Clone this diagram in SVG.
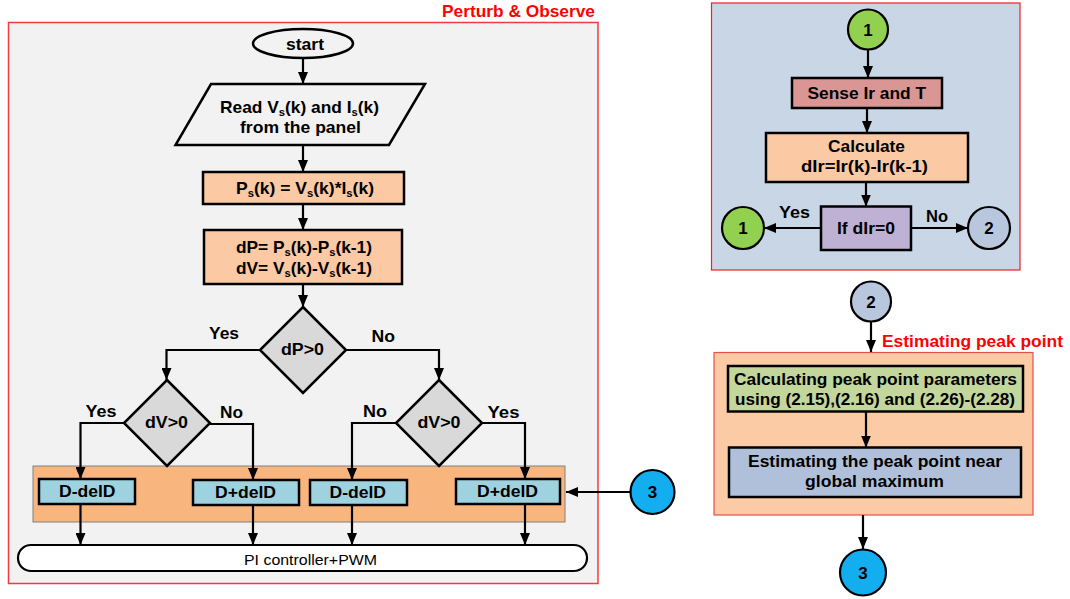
<svg xmlns="http://www.w3.org/2000/svg" width="1070" height="599" viewBox="0 0 1070 599">
<defs>
<marker id="ah" markerUnits="userSpaceOnUse" markerWidth="12" markerHeight="10" refX="12" refY="5" orient="auto">
<path d="M0,0 L12,5 L0,10 z" fill="#000"/>
</marker>
<style>
.t{font-family:"Liberation Sans",Arial,sans-serif;font-weight:bold;fill:#000}
.n{font-family:"Liberation Sans",Arial,sans-serif;fill:#000}
.red{font-family:"Liberation Sans",Arial,sans-serif;font-weight:bold;fill:#f00}
.box{stroke:#000;stroke-width:2.5}
.dia{fill:#d9d9d9;stroke:#000;stroke-width:2.5}
.td{fill:#9ed2df;stroke:#000;stroke-width:2.5}
.c{fill:none;stroke:#000;stroke-width:2.2;marker-end:url(#ah)}
</style>
</defs>
<rect width="1070" height="599" fill="#fff"/>

<g id="frame-po">
<rect x="8.5" y="22.5" width="589.5" height="561" fill="#f2f2f2" stroke="#f03c3c" stroke-width="1.5"/>
<text class="red" x="595" y="17" font-size="17" text-anchor="end" textLength="153" lengthAdjust="spacingAndGlyphs">Perturb &amp; Observe</text>
</g>
<g id="band">
<rect x="33" y="466" width="532" height="56" fill="#f8b57e" stroke="#808080" stroke-width="1"/>
</g>
<g id="frame-right">
<rect x="711.5" y="3" width="308.5" height="267" fill="#c9d6e6" stroke="#f02020" stroke-width="1.2"/>
</g>
<g id="est-frame">
<rect x="714" y="352.5" width="319" height="162.5" fill="#fbcba5" stroke="#e8504a" stroke-width="1.2"/>
<text class="red" x="882" y="347" font-size="17" textLength="181" lengthAdjust="spacingAndGlyphs">Estimating peak point</text>
</g>

<g id="connectors">
<path class="c" d="M303,58 V84"/>
<path class="c" d="M303,145 V172"/>
<path class="c" d="M303,204 V230"/>
<path class="c" d="M303,284 V307"/>
<path class="c" d="M260,350 H166.5 V380"/>
<path class="c" d="M346,350 H439 V380"/>
<path class="c" d="M124,423 H80.5 V479"/>
<path class="c" d="M210,424 H253 V480"/>
<path class="c" d="M396,423 H352 V480"/>
<path class="c" d="M482,423 H525 V479"/>
<path class="c" d="M80.5,504 V545"/>
<path class="c" d="M253,505 V545"/>
<path class="c" d="M352,505 V545"/>
<path class="c" d="M525,504 V545"/>
<path class="c" d="M630,492 H566"/>
<path class="c" d="M868,50 V78"/>
<path class="c" d="M867,108 V133"/>
<path class="c" d="M866,182 V206.5"/>
<path class="c" d="M821,228 H764"/>
<path class="c" d="M911,228 H968"/>
<path class="c" d="M871,322 V352"/>
<path class="c" d="M866,412 V447.5"/>
<path class="c" d="M863,515 V549"/>
</g>

<g id="start">
<ellipse cx="303" cy="43.5" rx="50" ry="14.5" fill="#f2f2f2" stroke="#000" stroke-width="2.5"/>
<text class="t" x="305" y="50" font-size="17" text-anchor="middle" textLength="38" lengthAdjust="spacingAndGlyphs">start</text>
</g>

<g id="read">
<polygon points="211,84 425,84 389,145 175.5,145" fill="#f2f2f2" stroke="#000" stroke-width="2.5"/>
<text class="t" x="220" y="113" font-size="17" textLength="159" lengthAdjust="spacingAndGlyphs">Read V<tspan font-size="11" dy="3">s</tspan><tspan dy="-3">(k) and I</tspan><tspan font-size="11" dy="3">s</tspan><tspan dy="-3">(k)</tspan></text>
<text class="t" x="240" y="133" font-size="17" textLength="121" lengthAdjust="spacingAndGlyphs">from the panel</text>
</g>

<g id="ps">
<rect class="box" x="203" y="172" width="201" height="32" fill="#fbcaa5"/>
<text class="t" x="236" y="194" font-size="17" textLength="138" lengthAdjust="spacingAndGlyphs">P<tspan font-size="11" dy="3">s</tspan><tspan dy="-3">(k) = V</tspan><tspan font-size="11" dy="3">s</tspan><tspan dy="-3">(k)*I</tspan><tspan font-size="11" dy="3">s</tspan><tspan dy="-3">(k)</tspan></text>
</g>

<g id="dpdv">
<rect class="box" x="204" y="230" width="198" height="54" fill="#fbcaa5"/>
<text class="t" x="236" y="253" font-size="17" textLength="136" lengthAdjust="spacingAndGlyphs">dP= P<tspan font-size="11" dy="3">s</tspan><tspan dy="-3">(k)-P</tspan><tspan font-size="11" dy="3">s</tspan><tspan dy="-3">(k-1)</tspan></text>
<text class="t" x="236" y="274" font-size="17" textLength="136" lengthAdjust="spacingAndGlyphs">dV= V<tspan font-size="11" dy="3">s</tspan><tspan dy="-3">(k)-V</tspan><tspan font-size="11" dy="3">s</tspan><tspan dy="-3">(k-1)</tspan></text>
</g>

<g id="dp-dec">
<polygon class="dia" points="303,307 346,350 303,393 260,350"/>
<text class="t" x="281" y="355" font-size="16" textLength="43" lengthAdjust="spacingAndGlyphs">dP&gt;0</text>
<text class="t" x="209" y="339" font-size="17" textLength="30" lengthAdjust="spacingAndGlyphs">Yes</text>
<text class="t" x="371.5" y="342" font-size="17" textLength="23.5" lengthAdjust="spacingAndGlyphs">No</text>
</g>

<g id="dv-left">
<polygon class="dia" points="167,380 210,423 167,466 124,423"/>
<text class="t" x="145" y="428" font-size="16" textLength="43" lengthAdjust="spacingAndGlyphs">dV&gt;0</text>
<text class="t" x="85.5" y="417" font-size="17" textLength="31" lengthAdjust="spacingAndGlyphs">Yes</text>
<text class="t" x="220" y="418" font-size="17" textLength="23" lengthAdjust="spacingAndGlyphs">No</text>
</g>

<g id="dv-right">
<polygon class="dia" points="439,380 482,423 439,466 396,423"/>
<text class="t" x="417.5" y="428" font-size="16" textLength="43" lengthAdjust="spacingAndGlyphs">dV&gt;0</text>
<text class="t" x="363" y="417" font-size="17" textLength="24" lengthAdjust="spacingAndGlyphs">No</text>
<text class="t" x="487.5" y="418" font-size="17" textLength="32" lengthAdjust="spacingAndGlyphs">Yes</text>
</g>

<g id="dd1">
<rect class="td" x="39" y="479" width="96" height="25"/>
<text class="t" x="59" y="497" font-size="16" textLength="56.5" lengthAdjust="spacingAndGlyphs">D-delD</text>
</g>
<g id="dd2">
<rect class="td" x="193" y="480" width="106" height="25"/>
<text class="t" x="215" y="498" font-size="16" textLength="61" lengthAdjust="spacingAndGlyphs">D+delD</text>
</g>
<g id="dd3">
<rect class="td" x="310" y="480" width="97" height="25"/>
<text class="t" x="329.5" y="498" font-size="16" textLength="56.5" lengthAdjust="spacingAndGlyphs">D-delD</text>
</g>
<g id="dd4">
<rect class="td" x="456" y="479" width="104" height="25"/>
<text class="t" x="477" y="497" font-size="16" textLength="61" lengthAdjust="spacingAndGlyphs">D+delD</text>
</g>

<g id="pi">
<rect x="18" y="545" width="569" height="26" rx="13" ry="13" fill="#fff" stroke="#000" stroke-width="2.2"/>
<text class="n" x="244" y="565" font-size="15" textLength="133" lengthAdjust="spacingAndGlyphs">PI controller+PWM</text>
</g>

<g id="c3-left">
<circle cx="652.5" cy="492" r="22" fill="#13aeef" stroke="#000" stroke-width="2.2"/>
<text class="t" x="652.5" y="498" font-size="17" text-anchor="middle">3</text>
</g>

<g id="c1-top">
<circle cx="868" cy="29.5" r="20" fill="#92d050" stroke="#000" stroke-width="2.2"/>
<text class="t" x="868" y="35.5" font-size="17" text-anchor="middle">1</text>
</g>

<g id="sense">
<rect class="box" x="792" y="78" width="150" height="30" fill="#d99694"/>
<text class="t" x="807.5" y="98.5" font-size="16" textLength="118.5" lengthAdjust="spacingAndGlyphs">Sense Ir and T</text>
</g>

<g id="calc">
<rect class="box" x="766" y="133" width="202" height="49" fill="#fbcaa5"/>
<text class="t" x="866.5" y="151.5" font-size="16" text-anchor="middle" textLength="77" lengthAdjust="spacingAndGlyphs">Calculate</text>
<text class="t" x="801" y="171.5" font-size="16" textLength="127" lengthAdjust="spacingAndGlyphs">dIr=Ir(k)-Ir(k-1)</text>
</g>

<g id="ifdir">
<rect class="box" x="821" y="206.5" width="90" height="43.5" fill="#bfb1d3"/>
<text class="t" x="837" y="234" font-size="16" textLength="58" lengthAdjust="spacingAndGlyphs">If dIr=0</text>
<text class="t" x="779" y="218" font-size="16" textLength="31" lengthAdjust="spacingAndGlyphs">Yes</text>
<text class="t" x="926" y="222" font-size="16" textLength="22" lengthAdjust="spacingAndGlyphs">No</text>
</g>

<g id="c1-left">
<circle cx="743" cy="228" r="21" fill="#92d050" stroke="#000" stroke-width="2.2"/>
<text class="t" x="743" y="234" font-size="17" text-anchor="middle">1</text>
</g>

<g id="c2-right">
<circle cx="989" cy="228" r="21" fill="#b8c7dd" stroke="#000" stroke-width="2.2"/>
<text class="t" x="989" y="234" font-size="17" text-anchor="middle">2</text>
</g>

<g id="c2-mid">
<circle cx="871" cy="301.5" r="20" fill="#b8c7dd" stroke="#000" stroke-width="2.2"/>
<text class="t" x="871" y="307.5" font-size="17" text-anchor="middle">2</text>
</g>

<g id="calc-peak">
<rect class="box" x="728" y="366" width="295" height="45.5" fill="#c3d69b"/>
<text class="t" x="734" y="385" font-size="16" textLength="283" lengthAdjust="spacingAndGlyphs">Calculating peak point parameters</text>
<text class="t" x="735" y="404.5" font-size="16" textLength="280" lengthAdjust="spacingAndGlyphs">using (2.15),(2.16) and (2.26)-(2.28)</text>
</g>

<g id="est-peak">
<rect class="box" x="729" y="447.5" width="292" height="49.5" fill="#b0c0da"/>
<text class="t" x="748" y="467" font-size="16" textLength="254" lengthAdjust="spacingAndGlyphs">Estimating the peak point near</text>
<text class="t" x="805" y="487" font-size="16" textLength="139" lengthAdjust="spacingAndGlyphs">global maximum</text>
</g>

<g id="c3-bottom">
<circle cx="863" cy="572.5" r="23" fill="#13aeef" stroke="#000" stroke-width="2.2"/>
<text class="t" x="863" y="578.5" font-size="17" text-anchor="middle">3</text>
</g>
</svg>
